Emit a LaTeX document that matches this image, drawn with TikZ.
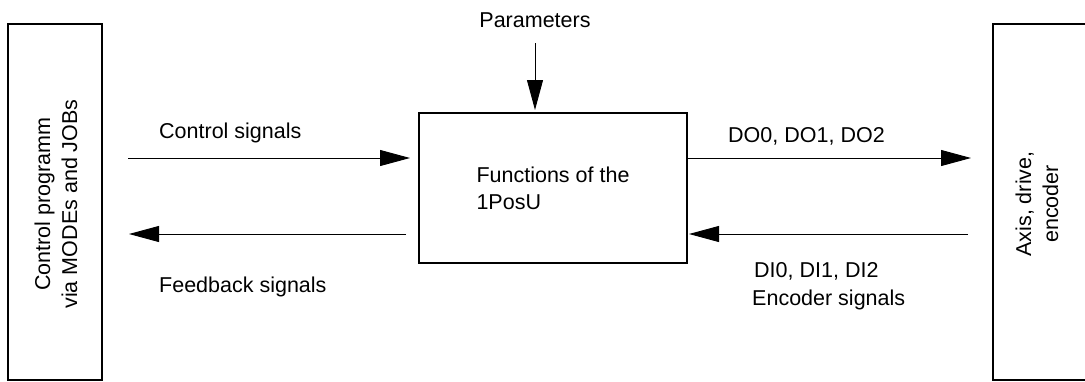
\documentclass[tikz,border=0pt]{standalone}
\usepackage{fontspec}
\setmainfont{Liberation Sans}
\usetikzlibrary{arrows.meta}
\tikzset{box/.style={draw, line width=2pt, inner sep=0pt},
%signal arrows with the big filled heads
sig/.style={line width=0.9pt, -{Triangle[length=30pt,width=16pt]}},
lbl/.style={inner sep=0pt}}

\begin{document}
\begin{tikzpicture}[x=1pt,y=-1pt,font=\fontsize{21.5}{27}\selectfont]

\useasboundingbox (0,0) rectangle (1085,381);

\coordinate (upper) at (0,158);
\coordinate (lower) at (0,234);

\node[box, minimum width=94pt, minimum height=356pt] (ctrl) at (55,201.5) {};
\node[box, minimum width=100pt, minimum height=356pt] (axis) at (1043,201.5) {};
\node[box, minimum width=268pt, minimum height=150pt, align=left] (func) at (553,188) {Functions of the\\1PosU};

\node[lbl, rotate=90, align=center] (ctrltxt) at (56,204) {Control programm\\via MODEs and JOBs};
\node[lbl, rotate=90, align=center] (axistxt) at (1037,204) {Axis, drive,\\encoder};

\node[lbl] (param) at (535,20.5) {Parameters};
\draw[sig, shorten <=15pt, shorten >=2pt] (param.south) -- (param.south |- func.north);

\draw[sig, shorten <=25pt, shorten >=8pt] (ctrl.east |- upper) -- (func.west |- upper);
\draw[sig, shorten <=12pt, shorten >=26pt] (func.west |- lower) -- (ctrl.east |- lower);
\draw[sig, shorten >=21pt] (func.east |- upper) -- (axis.west |- upper);
\draw[sig, shorten <=24pt, shorten >=1pt] (axis.west |- lower) -- (func.east |- lower);

\node[lbl, anchor=base west] (cs) at (159,138) {Control signals};
\node[lbl, anchor=base west] (fs) at (159,292) {Feedback signals};
\node[lbl, anchor=base west] (dout) at (728,142) {DO0, DO1, DO2};
\node[lbl, anchor=base west] (din) at (754,277) {DI0, DI1, DI2};
\node[lbl, anchor=base west] (es) at (752,305) {Encoder signals};

\end{tikzpicture}
\end{document}
